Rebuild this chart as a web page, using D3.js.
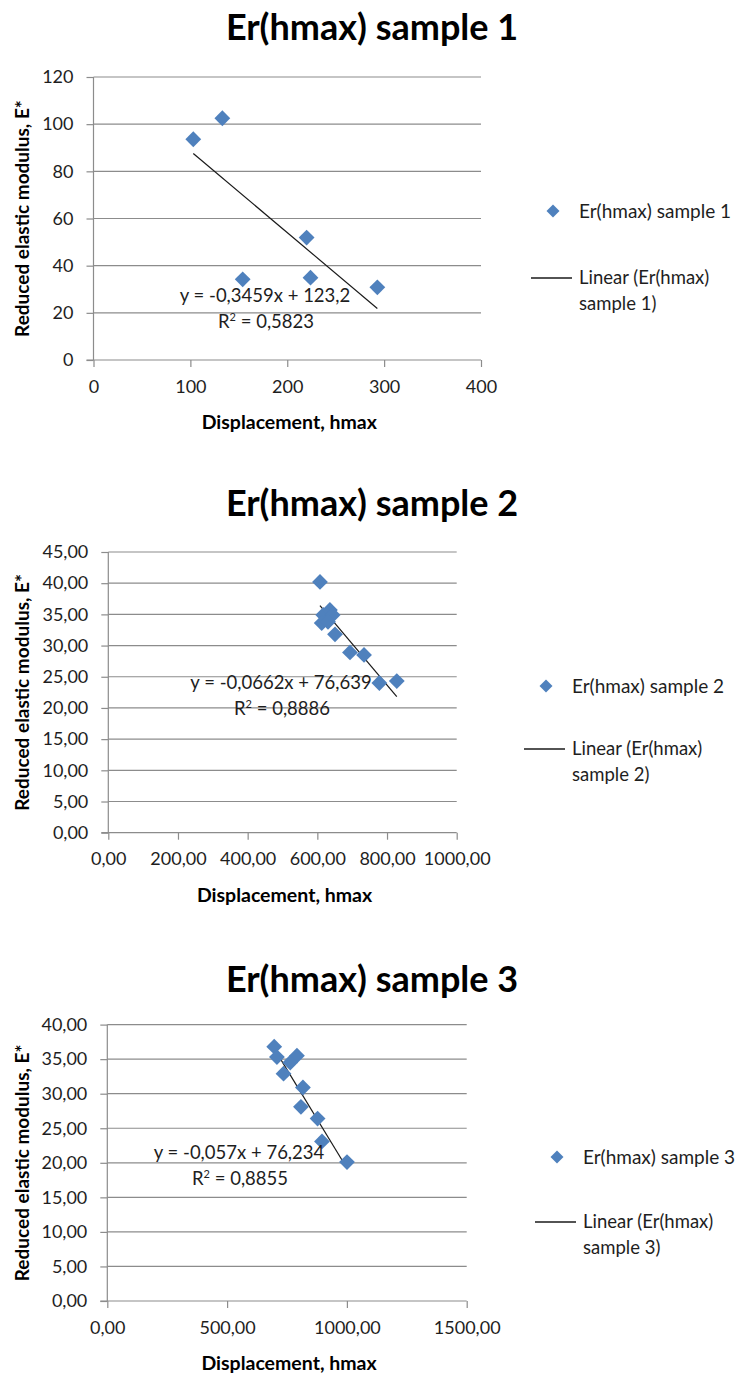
<!DOCTYPE html>
<html>
<head>
<meta charset="utf-8">
<script src="https://cdn.jsdelivr.net/npm/d3@7"></script>
<style>
  body { margin: 0; background: #fff; }
  svg { display: block; font-family: Lato, "Open Sans", sans-serif; }
</style>
</head>
<body>
<div id="charts"></div>
<script>
// sample 1
var s1Title = "Er(hmax) sample 1";
var s1X = [103, 133, 154, 220, 224, 293];
var s1Y = [93.6, 102.5, 34.2, 51.9, 34.9, 30.8];
var s1Fit = [-0.3459, 123.2];
var s1Eq = ["y = -0,3459x + 123,2", "0,5823"];
var s1XTicks = [0, 100, 200, 300, 400];
var s1YTicks = [0, 20, 40, 60, 80, 100, 120];

// sample 2
var s2Title = "Er(hmax) sample 2";
var s2X = [607.6, 617, 636, 644, 612.5, 630.6, 650.7, 693.7, 734, 778, 828];
var s2Y = [40.2, 34.9, 35.7, 34.9, 33.6, 33.8, 31.8, 28.9, 28.5, 24.0, 24.3];
var s2Fit = [-0.0662, 76.639];
var s2Eq = ["y = -0,0662x + 76,639", "0,8886"];
var s2XTicks = [0, 200, 400, 600, 800, 1000];
var s2YTicks = [0, 5, 10, 15, 20, 25, 30, 35, 40, 45];

// sample 3
var s3Title = "Er(hmax) sample 3";
var s3X = [696.6, 707.9, 791.5, 763.5, 735.5, 816.5, 808.2, 877.6, 896, 1000.4];
var s3Y = [36.8, 35.3, 35.5, 34.5, 32.9, 30.9, 28.1, 26.4, 23.1, 20.1];
var s3Fit = [-0.057, 76.234];
var s3Eq = ["y = -0,057x + 76,234", "0,8855"];
var s3XTicks = [0, 500, 1000, 1500];
var s3YTicks = [0, 5, 10, 15, 20, 25, 30, 35, 40];

var xTitle = "Displacement, hmax";
var yTitle = "Reduced elastic modulus, E*";

var blue = "#4f81bd";
var grid = "#8c8c8c";
var ink = "#1e1e1e";

var svg = d3.select("#charts").append("svg")
  .attr("width", 744)
  .attr("height", 1375);

var fmtInt = d3.format("d");
var fmtDec = function(d) { return d3.format(".2f")(d).replace(".", ","); };

var charts = [
  { title: s1Title, xs: s1X, ys: s1Y, fit: s1Fit, eq: s1Eq, xt: s1XTicks, yt: s1YTicks, fmt: fmtInt, label: "1",
    left: 93.5, right: 481, top: 77, bottom: 360, titleY: 40, eqX: 265, eqY: 302,
    legY: 211, legX: 553, lineY: 278 },
  { title: s2Title, xs: s2X, ys: s2Y, fit: s2Fit, eq: s2Eq, xt: s2XTicks, yt: s2YTicks, fmt: fmtDec, label: "2",
    left: 108.3, right: 456.7, top: 552, bottom: 832.7, titleY: 516, eqX: 281, eqY: 689,
    legY: 686, legX: 546, lineY: 749 },
  { title: s3Title, xs: s3X, ys: s3Y, fit: s3Fit, eq: s3Eq, xt: s3XTicks, yt: s3YTicks, fmt: fmtDec, label: "3",
    left: 107.3, right: 466.7, top: 1024.6, bottom: 1301, titleY: 992, eqX: 239, eqY: 1159,
    legY: 1157, legX: 557, lineY: 1222 }
];

function label(g, x, y, size, txt) {
  return g.append("text")
    .attr("x", x)
    .attr("y", y)
    .attr("dy", "0.35em")
    .style("font-size", size)
    .style("fill", ink)
    .text(txt);
}

charts.forEach(function(c) {
  var x = d3.scaleLinear().domain(d3.extent(c.xt)).range([c.left, c.right]);
  var y = d3.scaleLinear().domain(d3.extent(c.yt)).range([c.bottom, c.top]);
  var g = svg.append("g");

  // title
  g.append("text")
    .attr("x", 372)
    .attr("y", c.titleY)
    .attr("text-anchor", "middle")
    .style("font-size", "36px")
    .style("font-weight", "bold")
    .style("fill", "#000")
    .text(c.title);

  // gridlines
  g.selectAll(".grid")
    .data(c.yt.slice(1))
    .enter().append("line")
    .attr("x1", c.left).attr("x2", c.right)
    .attr("y1", function(d) { return y(d); })
    .attr("y2", function(d) { return y(d); })
    .style("stroke", grid)
    .style("stroke-width", 1.2);

  // axes
  var ya = g.append("g")
    .attr("transform", "translate(" + c.left + ",0)")
    .call(d3.axisLeft(y).tickValues(c.yt).tickFormat(c.fmt).tickSize(7).tickPadding(13));
  var xa = g.append("g")
    .attr("transform", "translate(0," + c.bottom + ")")
    .call(d3.axisBottom(x).tickValues(c.xt).tickFormat(c.fmt).tickSize(7).tickPadding(13));
  [ya, xa].forEach(function(a) {
    a.select(".domain").style("stroke", grid).style("stroke-width", 1.2);
    a.selectAll(".tick line").style("stroke", grid).style("stroke-width", 1.2);
    a.selectAll("text").style("font-size", "18px").style("font-family", "Lato, sans-serif").style("fill", ink);
  });
  ya.select(".domain").attr("d", "M0," + c.bottom + "V" + c.top);
  xa.select(".domain").attr("d", "M" + (c.left - 7) + ",0H" + c.right);

  // axis titles
  g.append("text")
    .attr("x", (c.left + c.right) / 2 + 2)
    .attr("y", c.bottom + 69)
    .attr("text-anchor", "middle")
    .style("font-size", "19.5px")
    .style("font-weight", "bold")
    .text(xTitle);
  g.append("text")
    .attr("transform", "translate(29," + ((c.top + c.bottom) / 2) + ") rotate(-90)")
    .attr("text-anchor", "middle")
    .style("font-size", "19px")
    .style("font-weight", "bold")
    .text(yTitle);

  // trendline
  var x0 = d3.min(c.xs), x1 = d3.max(c.xs);
  g.append("line")
    .attr("x1", x(x0)).attr("y1", y(c.fit[0] * x0 + c.fit[1]))
    .attr("x2", x(x1)).attr("y2", y(c.fit[0] * x1 + c.fit[1]))
    .style("stroke", "#1a1a1a")
    .style("stroke-width", 1.2);

  // points
  var pts = c.xs.map(function(v, i) { return [v, c.ys[i]]; });
  g.selectAll(".pt")
    .data(pts)
    .enter().append("path")
    .attr("d", d3.symbol().type(d3.symbolSquare).size(125))
    .attr("transform", function(d) { return "translate(" + x(d[0]) + "," + y(d[1]) + ") rotate(45)"; })
    .style("fill", blue);

  // equation
  g.append("text")
    .attr("x", c.eqX)
    .attr("y", c.eqY)
    .attr("text-anchor", "middle")
    .style("font-size", "18.5px")
    .style("fill", ink)
    .text(c.eq[0]);
  var r2 = g.append("text")
    .attr("x", c.eqX + 1)
    .attr("y", c.eqY + 26)
    .attr("text-anchor", "middle")
    .style("font-size", "18.5px")
    .style("fill", ink);
  r2.append("tspan").text("R");
  r2.append("tspan").attr("dy", -7).style("font-size", "11px").text("2");
  r2.append("tspan").attr("dy", 7).text(" = " + c.eq[1]);

  // legend
  g.append("path")
    .attr("d", d3.symbol().type(d3.symbolSquare).size(85))
    .attr("transform", "translate(" + c.legX + "," + c.legY + ") rotate(45)")
    .style("fill", blue);
  label(g, c.legX + 26, c.legY, "19px", c.title);
  g.append("line")
    .attr("x1", c.legX - 22).attr("x2", c.legX + 19)
    .attr("y1", c.lineY).attr("y2", c.lineY)
    .style("stroke", "#1a1a1a")
    .style("stroke-width", 1.3);
  label(g, c.legX + 26, c.lineY, "18.5px", "Linear (Er(hmax)");
  label(g, c.legX + 26, c.lineY + 26, "18.5px", "sample " + c.label + ")");
});
</script>
</body>
</html>
